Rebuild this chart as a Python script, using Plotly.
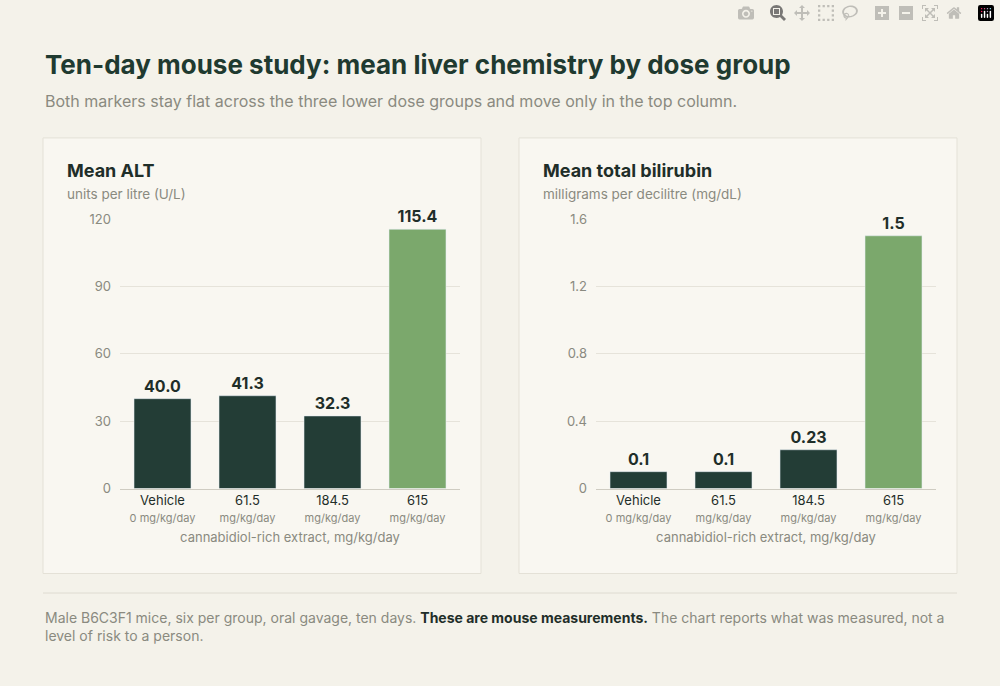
import plotly.graph_objects as go

W, H = 1000, 686
categories = ["Vehicle", "61.5", "184.5", "615"]
dose_sub = ["0 mg/kg/day", "mg/kg/day", "mg/kg/day", "mg/kg/day"]
alt_vals = [40.0, 41.3, 32.3, 115.4]
alt_text = ["40.0", "41.3", "32.3", "115.4"]
bili_vals = [0.1, 0.1, 0.23, 1.5]
bili_text = ["0.1", "0.1", "0.23", "1.5"]

DARK = "#233d36"
GREEN = "#7ba86c"
BG = "#f4f2ea"
CARD = "#f9f7f1"
GREY = "#8a8a80"
FONT = "Inter"

colors = [DARK, DARK, DARK, GREEN]
ticklabels = [f"{c}<br><span style='font-size:11px;color:{GREY}'>{s}</span>"
              for c, s in zip(categories, dose_sub)]


def px(x):
    return x / W


def py(y):
    return 1 - y / H


fig = go.Figure()
fig.add_trace(go.Bar(x=ticklabels, y=alt_vals, text=alt_text, marker_color=colors,
                     textposition="outside", cliponaxis=False, xaxis="x", yaxis="y",
                     textfont=dict(size=16, color="#1f2e29", family=FONT, weight="bold")))
fig.add_trace(go.Bar(x=ticklabels, y=bili_vals, text=bili_text, marker_color=colors,
                     textposition="outside", cliponaxis=False, xaxis="x2", yaxis="y2",
                     textfont=dict(size=16, color="#1f2e29", family=FONT, weight="bold")))

ax_common = dict(showline=True, linecolor="#cfccc2", tickfont=dict(size=13, color="#1f2e29"),
                 title_font=dict(size=13, color=GREY), title_standoff=8, fixedrange=True)
ay_common = dict(showgrid=True, gridcolor="#e6e3da", zeroline=False,
                 tickfont=dict(size=13, color=GREY), ticklabelstandoff=8)

fig.update_layout(
    width=W, height=H, margin=dict(l=0, r=0, t=0, b=0),
    paper_bgcolor=BG, plot_bgcolor=CARD, showlegend=False, bargap=0.33,
    font=dict(family=FONT, color="#1f2e29"),
    xaxis=dict(domain=[px(120), px(460)], anchor="y",
               title_text="cannabidiol-rich extract, mg/kg/day", **ax_common),
    yaxis=dict(domain=[py(492), py(216)], anchor="x", range=[0, 120],
               tickvals=[0, 30, 60, 90, 120], **ay_common),
    xaxis2=dict(domain=[px(596), px(936)], anchor="y2",
                title_text="cannabidiol-rich extract, mg/kg/day", **ax_common),
    yaxis2=dict(domain=[py(492), py(216)], anchor="x2", range=[0, 1.6],
                tickvals=[0, 0.4, 0.8, 1.2, 1.6], ticktext=["0", "0.4", "0.8", "1.2", "1.6"],
                **ay_common),
)

# cards behind each panel
for x0, x1 in [(43, 481), (519, 957)]:
    fig.add_shape(type="rect", xref="paper", yref="paper", layer="below",
                  x0=px(x0), x1=px(x1), y0=py(579), y1=py(133),
                  fillcolor=CARD, line=dict(color="#e4e1d7", width=1))
fig.add_shape(type="line", xref="paper", yref="paper", x0=px(43), x1=px(957),
              y0=py(599), y1=py(599), line=dict(color="#dedbd1", width=1))


def txt(x, y, s, size, color, bold=False):
    fig.add_annotation(xref="paper", yref="paper", x=px(x), y=py(y), text=s,
                       showarrow=False, xanchor="left", yanchor="middle", align="left",
                       font=dict(size=size, color=color, family=FONT,
                                 weight="bold" if bold else "normal"))


txt(43, 58, "Ten-day mouse study: mean liver chemistry by dose group", 26, "#1f3a30", True)
txt(43, 95, "Both markers stay flat across the three lower dose groups and move only in the top column.", 16, GREY)
txt(65, 166, "Mean ALT", 18, "#1f2e29", True)
txt(65, 190, "units per litre (U/L)", 13.5, GREY)
txt(541, 166, "Mean total bilirubin", 18, "#1f2e29", True)
txt(541, 190, "milligrams per decilitre (mg/dL)", 13.5, GREY)
txt(43, 633, "Male B6C3F1 mice, six per group, oral gavage, ten days. "
    "<b style='color:#1f2e29'>These are mouse measurements.</b> The chart reports what was measured, not a"
    "<br>level of risk to a person.", 14, GREY)

fig.write_html("out.html",
               post_script="document.body.style.margin='0';document.body.style.background='" + BG + "';")
